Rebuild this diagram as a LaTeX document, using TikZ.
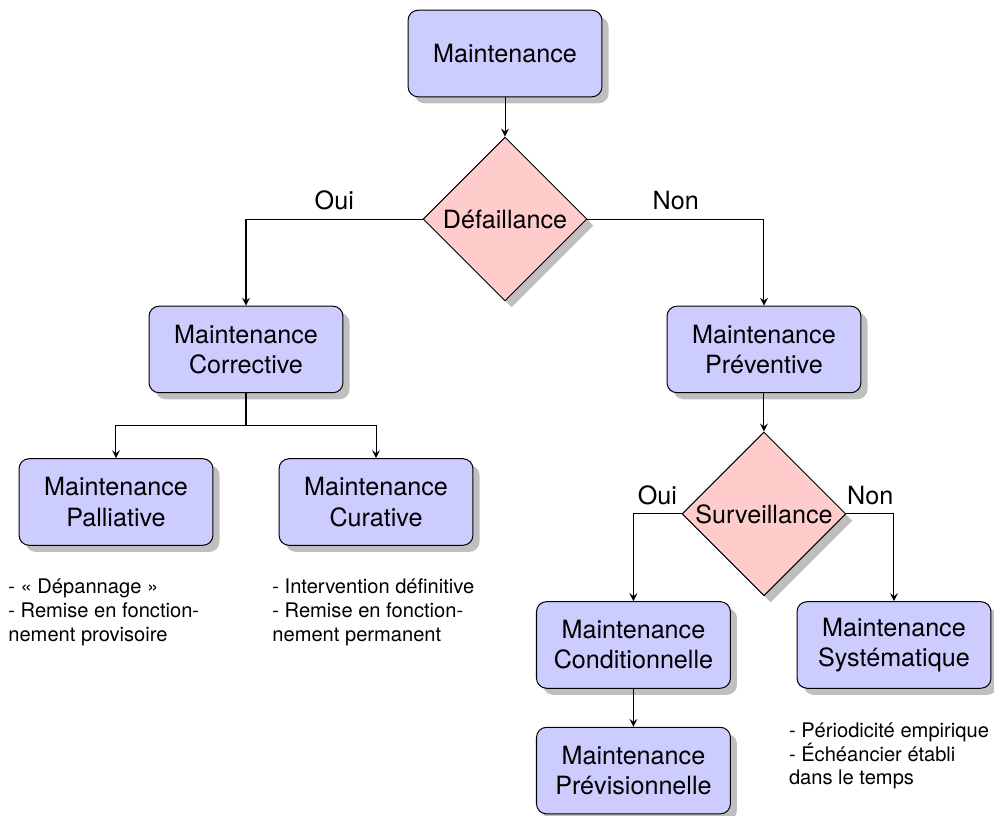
\documentclass[tikz,border=0pt]{standalone}
\usepackage{fontspec}
\setmainfont{TeX Gyre Heros}
\usepackage{tikz}
\usetikzlibrary{shapes.geometric,shadows}

\tikzset{
    boite/.style={draw, fill=blue!20, rounded corners, drop shadow,
        align=center, minimum width=2.71cm, minimum height=1.21cm},
    choix/.style={draw, diamond, aspect=1, fill=red!20, drop shadow,
        inner sep=0pt, minimum size=2.29cm},
    note/.style={font=\footnotesize, align=left, inner sep=0pt, anchor=north west}
}

\begin{document}
\begin{tikzpicture}[>=stealth]
                \useasboundingbox (0, 0) rectangle (13.892, -11.404);

                \node[boite] (maint) at (7.058, -0.748) {Maintenance};
                \node[choix] (defail) at (7.058, -3.061) {Défaillance};
                \node[boite] (corr) at (3.438, -4.884) {Maintenance\\Corrective};
                \node[boite] (prev) at (10.677, -4.884) {Maintenance\\Préventive};
                \node[boite] (pall) at (1.621, -7.016) {Maintenance\\Palliative};
                \node[boite] (cura) at (5.255, -7.016) {Maintenance\\Curative};
                \node[choix] (surv) at (10.677, -7.183) {Surveillance};
                \node[boite] (cond) at (8.853, -9.014) {Maintenance\\Conditionnelle};
                \node[boite] (syst) at (12.494, -9.014) {Maintenance\\Systématique};
                \node[boite] (previs) at (8.853, -10.77) {Maintenance\\Prévisionnelle};

                % notes sous les boites
                \node[note] (notepall) at (0.11, -8.08)
                    {- « Dépannage »\\- Remise en fonction-\\nement provisoire};
                \node[note] (notecura) at (3.80, -8.08)
                    {- Intervention définitive\\- Remise en fonction-\\nement permanent};
                \node[note] (notesyst) at (11.02, -10.09)
                    {- Périodicité empirique\\- Échéancier établi\\dans le temps};

                \coordinate (split) at (3.438, -5.94);

                \draw[->] (maint) -- (defail);
                \draw[->] (defail.west) -| node[above, pos=0.25] {Oui} (corr);
                \draw[->] (defail.east) -| node[above, pos=0.25] {Non} (prev);
                \draw (corr) -- (split);
                \draw[->] (split) -| (pall);
                \draw[->] (split) -| (cura);
                \draw[->] (prev) -- (surv);
                \draw[->] (surv.west) -| node[above, pos=0.25] {Oui} (cond);
                \draw[->] (surv.east) -| node[above, pos=0.25] {Non} (syst);
                \draw[->] (cond) -- (previs);
            \end{tikzpicture}
\end{document}
